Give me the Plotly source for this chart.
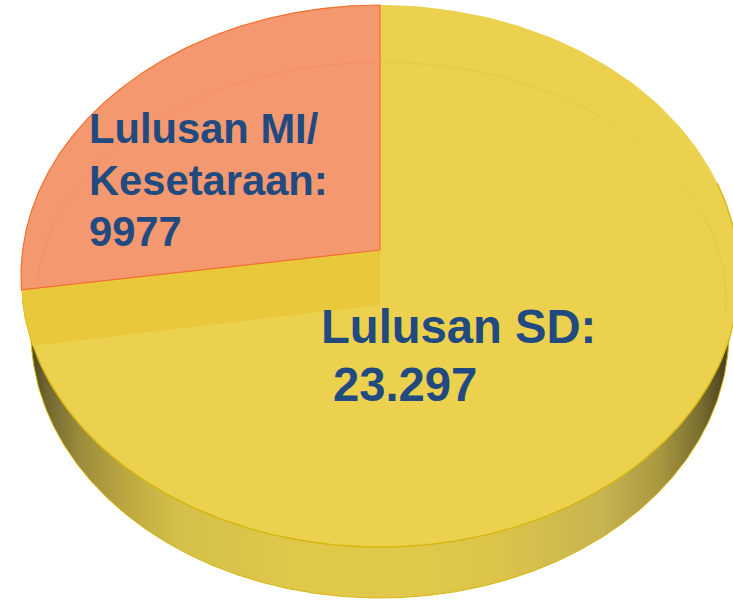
import numpy as np
import plotly.graph_objects as go

# Data
categories = ["Lulusan MI/ Kesetaraan", "Lulusan SD"]
values = [9977, 23297]
label_lines_mi = ["Lulusan MI/", "Kesetaraan:", "9977"]
label_lines_sd = ["Lulusan SD:", "23.297"]

# Colours
YELLOW = "#ECD14E"
YELLOW_BAND = "#EAC83B"
SALMON = "#F4986F"
ORANGE_EDGE = "#F0702E"
YELLOW_EDGE = "#D6B60F"
TEXT = "#204A80"
WALL_STOPS = [
    (30, "#4A4420"), (45, "#6E6430"), (80, "#9C8C3C"), (130, "#BFAA40"),
    (180, "#D4C04A"), (300, "#E0C84A"), (400, "#E0C94A"), (500, "#DCC44A"),
    (600, "#C8B450"), (660, "#A89840"), (700, "#7A6E30"), (725, "#4A4420"),
]

# Pseudo-3D disc geometry (pixel-like axis units)
TOP = (380, 276, 359, 271)
BOTTOM = (380, 332, 349, 266)
RING = (381, 300, 345, 238)
APEX = (380, 250)
WALL_DEPTH = 55
FORESHORTEN = 0.861


def arc(e, a0, a1, n=240):
    cx, cy, rx, ry = e
    t = np.radians(np.linspace(a0, a1, n))
    return cx + rx * np.sin(t), cy - ry * np.cos(t)


def poly(x, y, fill, line=None, width=1, **kw):
    return go.Scatter(
        x=list(x), y=list(y), mode="lines", fill="toself", fillcolor=fill,
        line=dict(color=line or fill, width=width if line else 0),
        hoverinfo="skip", showlegend=False, **kw,
    )


share = values[0] / sum(values)
theta = 360 * share * FORESHORTEN

fig = go.Figure()

# Side wall
xs = np.linspace(31, 729, 500)
u_top = np.sqrt(np.clip(1 - ((xs - TOP[0]) / TOP[2]) ** 2, 0, 1))
u_bot = np.sqrt(np.clip(1 - ((xs - BOTTOM[0]) / BOTTOM[2]) ** 2, 0, 1))
y_up = TOP[1] + TOP[3] * u_top
y_lo = BOTTOM[1] + BOTTOM[3] * u_bot
y_lo = np.maximum(y_lo, y_up)
x0, x1 = 31, 729
scale = [[(p - x0) / (x1 - x0), c] for p, c in WALL_STOPS]
scale = [[0, WALL_STOPS[0][1]]] + scale + [[1, WALL_STOPS[-1][1]]]
scale = [[max(0, min(1, p)), c] for p, c in scale]
fig.add_trace(go.Scatter(
    x=np.r_[xs, xs[::-1]], y=np.r_[y_up, y_lo[::-1]], mode="lines", fill="toself",
    fillgradient=dict(type="horizontal", colorscale=scale),
    line=dict(color=YELLOW_EDGE, width=1), hoverinfo="skip", showlegend=False,
))

# Larger slice: whole disc top minus the smaller slice
ax, ay = arc(TOP, 0, 360 - theta)
fig.add_trace(poly(np.r_[APEX[0], ax, APEX[0]], np.r_[APEX[1], ay, APEX[1]], YELLOW))

# Front rim, darker
rx_, ry_ = arc(TOP, 70, 360 - theta - 2, 200)
fig.add_trace(go.Scatter(x=rx_, y=ry_, mode="lines", line=dict(color=YELLOW_EDGE, width=1.4),
                         hoverinfo="skip", showlegend=False))

# Darker band: inner wall of the smaller slice seen through the top
bx, by = arc(TOP, 360 - theta, 360 - theta - 12, 30)
band_x = np.r_[APEX[0], bx, APEX[0]]
band_y = np.r_[APEX[1], by, APEX[1] + WALL_DEPTH]
fig.add_trace(poly(band_x, band_y, YELLOW_BAND))

# Smaller slice
sx, sy = arc(TOP, -theta, 0)
fig.add_trace(poly(np.r_[APEX[0], sx, APEX[0]], np.r_[APEX[1], sy, APEX[1]], SALMON, ORANGE_EDGE, 1.2))

# Faint inner ring
r1x, r1y = arc(RING, -(theta - 6), 0, 160)
fig.add_trace(go.Scatter(x=r1x, y=r1y, mode="lines", line=dict(color="#F78F60", width=1),
                         hoverinfo="skip", showlegend=False))
r2x, r2y = arc(RING, 0, 94, 160)
fig.add_trace(go.Scatter(x=r2x, y=r2y, mode="lines", line=dict(color="#E6C945", width=1),
                         hoverinfo="skip", showlegend=False))


def label(text, x, y, size):
    fig.add_annotation(x=x, y=y, text=f"<b>{text}</b>", showarrow=False, xanchor="left", yanchor="middle",
                       xref="x", yref="y", align="left",
                       font=dict(family="Liberation Sans", size=size, color=TEXT))


for line, y in zip(label_lines_mi, [128, 180, 231]):
    label(line, 87, y, 41.7)
label(label_lines_sd[0], 319, 326, 47.2)
label(label_lines_sd[1], 331, 384, 47.2)

fig.update_layout(
    width=733, height=600, margin=dict(l=0, r=0, t=0, b=0),
    paper_bgcolor="white", plot_bgcolor="white", showlegend=False,
    xaxis=dict(range=[0, 733], visible=False, fixedrange=True),
    yaxis=dict(range=[600, 0], visible=False, fixedrange=True),
)
fig.write_html("out.html", config={"displayModeBar": False},
               post_script="document.body.style.margin='0';document.documentElement.style.overflow='hidden';")
